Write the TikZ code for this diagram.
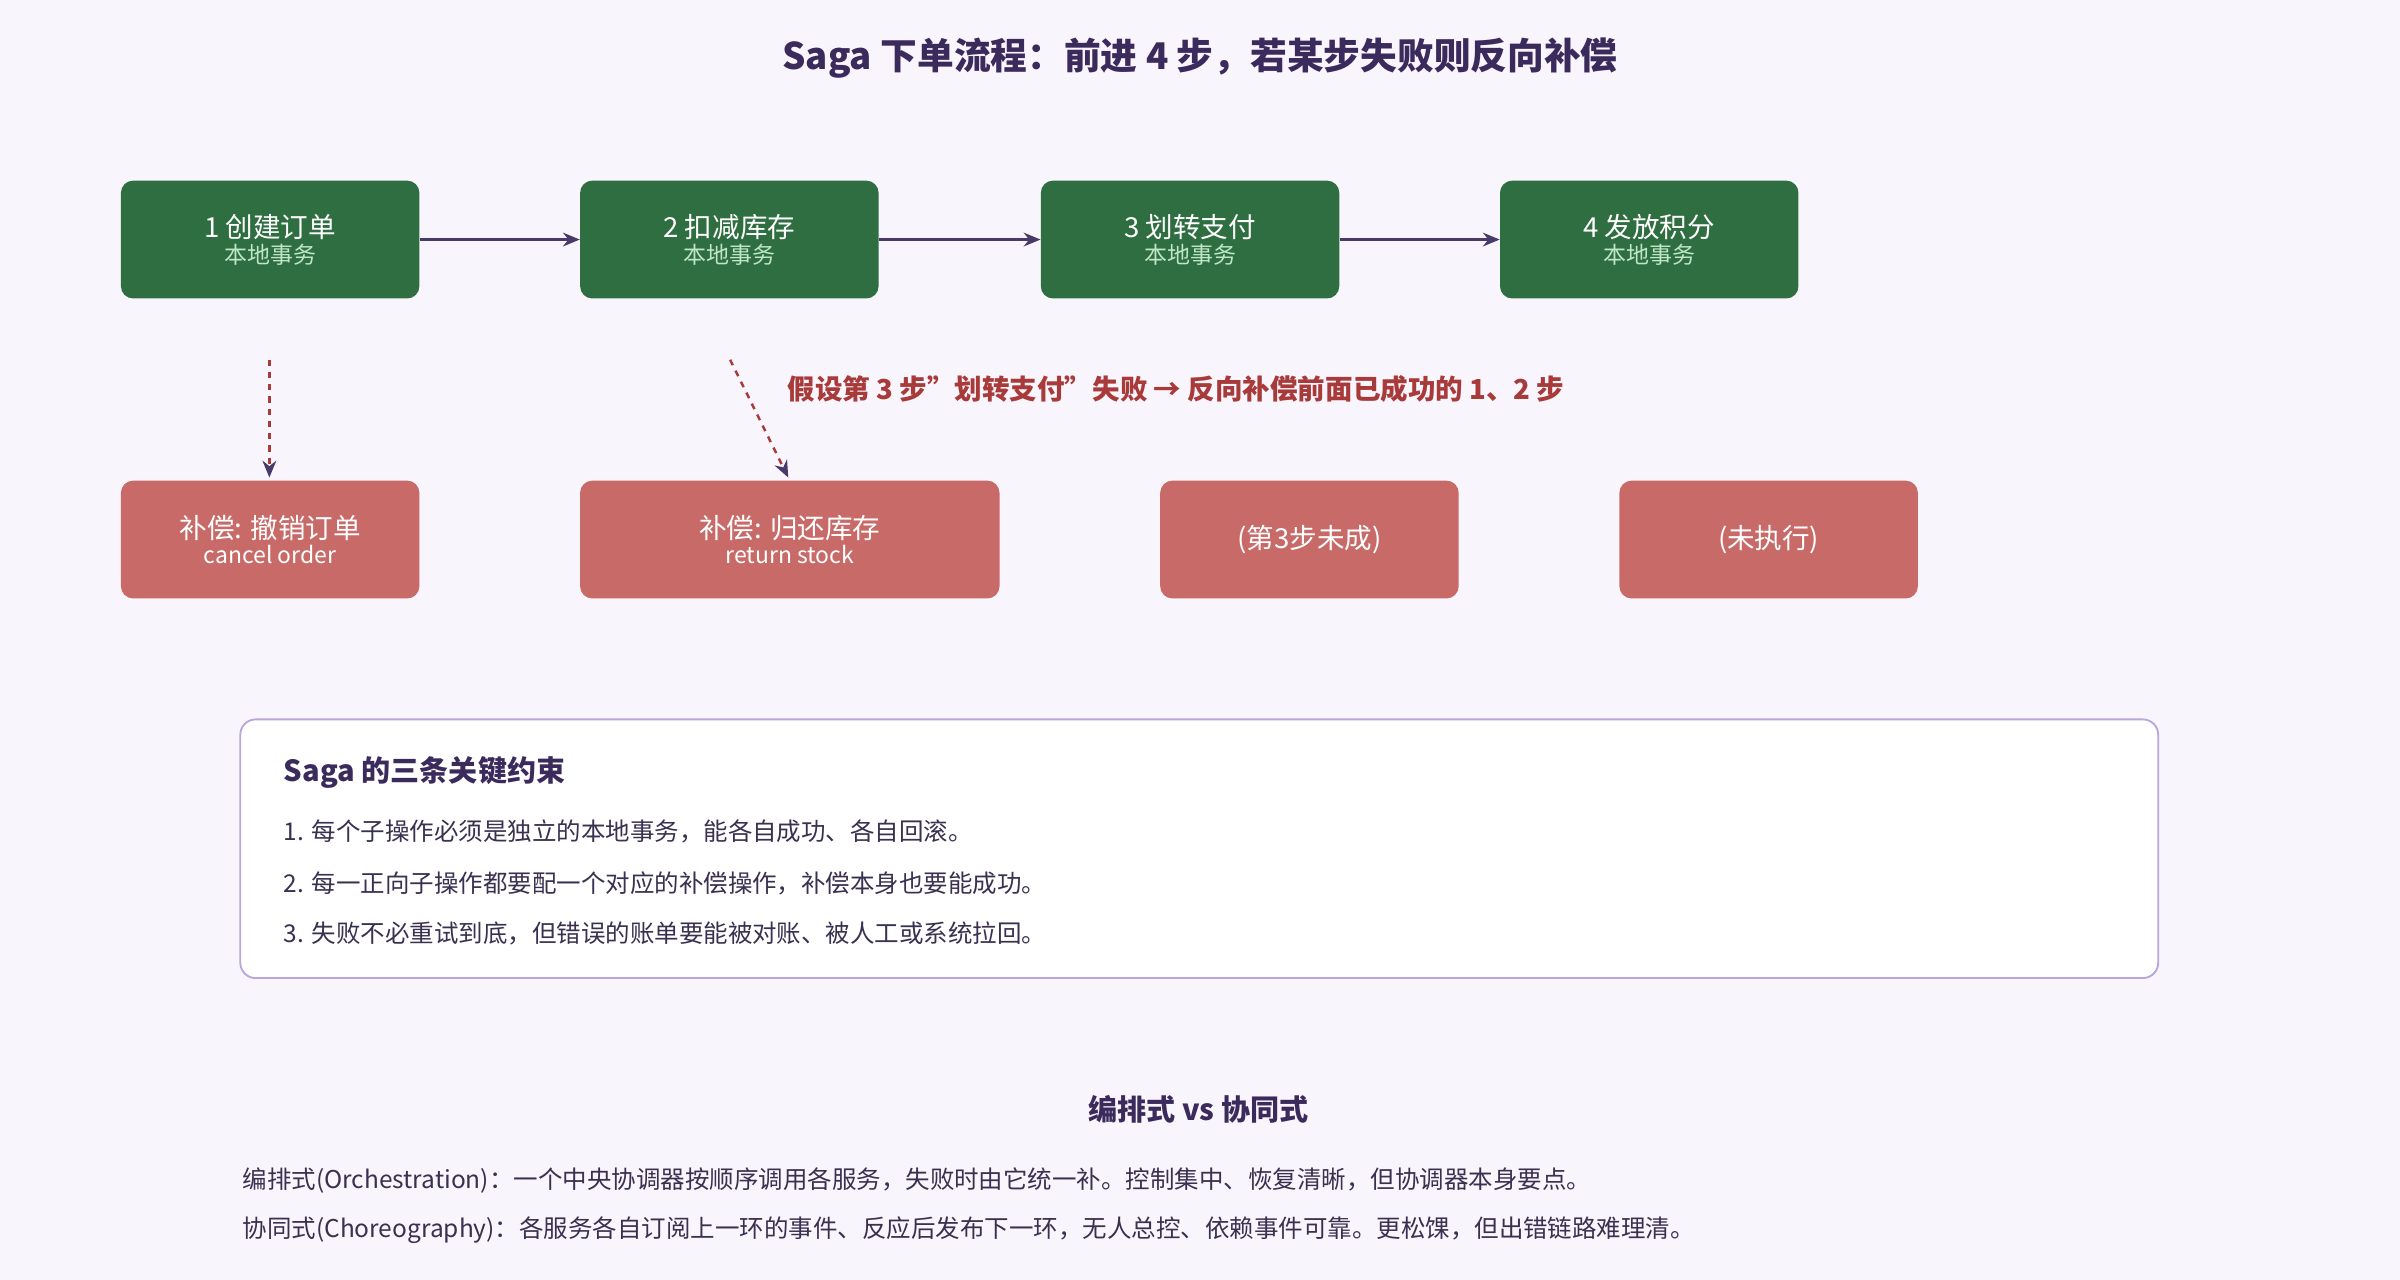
\documentclass[tikz,border=0pt]{standalone}
\usepackage{fontspec}
\setmainfont{Noto Sans CJK SC}
\usetikzlibrary{arrows.meta}
\definecolor{bg}{HTML}{F9F5FC}
\definecolor{ttl}{HTML}{3B2A5C}
\definecolor{grn}{HTML}{2E6E40}
\definecolor{lgrn}{HTML}{BFE6C8}
\definecolor{rd}{HTML}{C86A68}
\definecolor{arr}{HTML}{4A3A6A}
\definecolor{warn}{HTML}{A83A3A}
\definecolor{bord}{HTML}{B9A6DC}
\definecolor{txt}{HTML}{3A3050}
\begin{document}
\begin{tikzpicture}[x=1pt,y=-1pt,
 gbox/.style={fill=grn,rounded corners=8pt,text=white,align=center,inner sep=0pt},
 rbox/.style={fill=rd,rounded corners=8pt,text=white,align=center,inner sep=0pt},
 flow/.style={draw=arr,line width=1.6pt,-{Stealth[length=11pt,width=9pt]}},
 dflow/.style={draw=warn,line width=1.6pt,dash pattern=on 4pt off 4pt,-{Stealth[length=11pt,width=9pt,color=arr]}},
 body/.style={anchor=west,text=txt,font=\fontsize{16}{18}\selectfont}]
\fill[bg] (0,0) rectangle (1568,836);
\useasboundingbox (0,0) rectangle (1568,836);
\node[text=ttl,font=\bfseries\fontsize{24}{28}\selectfont] (title) at (784,38) {Saga 下单流程：前进 4 步，若某步失败则反向补偿};
\newcommand{\gnode}[4]{\node[gbox,minimum width=195pt,minimum height=77pt] (#1) at (#2,156.5) {{\fontsize{18}{22}\selectfont #3}\\[2pt]{\color{lgrn}\fontsize{15}{18}\selectfont #4}};}
\gnode{s1}{176.5}{1 创建订单}{本地事务}
\gnode{s2}{476.5}{2 扣减库存}{本地事务}
\gnode{s3}{777.5}{3 划转支付}{本地事务}
\gnode{s4}{1077.5}{4 发放积分}{本地事务}
\draw[flow] (s1.east) -- (s2.west);
\draw[flow] (s2.east) -- (s3.west);
\draw[flow] (s3.east) -- (s4.west);
\node[rbox,minimum width=195pt,minimum height=77pt] (c1) at (176.5,352.5) {{\fontsize{18}{22}\selectfont 补偿: 撤销订单}\\[2pt]{\fontsize{15}{18}\selectfont cancel order}};
\node[rbox,minimum width=274pt,minimum height=77pt] (c2) at (516,352.5) {{\fontsize{18}{22}\selectfont 补偿: 归还库存}\\[2pt]{\fontsize{15}{18}\selectfont return stock}};
\node[rbox,minimum width=195pt,minimum height=77pt,font=\fontsize{18}{22}\selectfont] (c3) at (855.5,352.5) {(第3步未成)};
\node[rbox,minimum width=195pt,minimum height=77pt,font=\fontsize{18}{22}\selectfont] (c4) at (1155.5,352.5) {(未执行)};
\coordinate (d1) at (176,235);
\coordinate (d2) at (477,235);
\coordinate (e1) at (176,312);
\coordinate (e2) at (515,312);
\draw[dflow] (d1) -- (e1);
\draw[dflow] (d2) -- (e2);
\node[anchor=west,text=warn,font=\bfseries\fontsize{18}{22}\selectfont] (note) at (511,254) {假设第 3 步"划转支付"失败 → 反向补偿前面已成功的 1、2 步};
\draw[bord,fill=white,line width=1.2pt,rounded corners=10pt] (157,470) rectangle (1410,639);
\node[anchor=west,text=ttl,font=\bfseries\fontsize{19}{22}\selectfont] (kt) at (182,505) {Saga 的三条关键约束};
\node[body] (k1) at (182,543) {1. 每个子操作必须是独立的本地事务，能各自成功、各自回滚。};
\node[body] (k2) at (182,577) {2. 每一正向子操作都要配一个对应的补偿操作，补偿本身也要能成功。};
\node[body] (k3) at (182,610) {3. 失败不必重试到底，但错误的账单要能被对账、被人工或系统拉回。};
\node[text=ttl,font=\bfseries\fontsize{19}{22}\selectfont] (vs) at (783,725) {编排式 vs 协同式};
\node[body] (o1) at (155,771) {编排式(Orchestration)：一个中央协调器按顺序调用各服务，失败时由它统一补。控制集中、恢复清晰，但协调器本身要点。};
\node[body] (o2) at (155,804) {协同式(Choreography)：各服务各自订阅上一环的事件、反应后发布下一环，无人总控、依赖事件可靠。更松馃，但出错链路难理清。};
\end{tikzpicture}
\end{document}
